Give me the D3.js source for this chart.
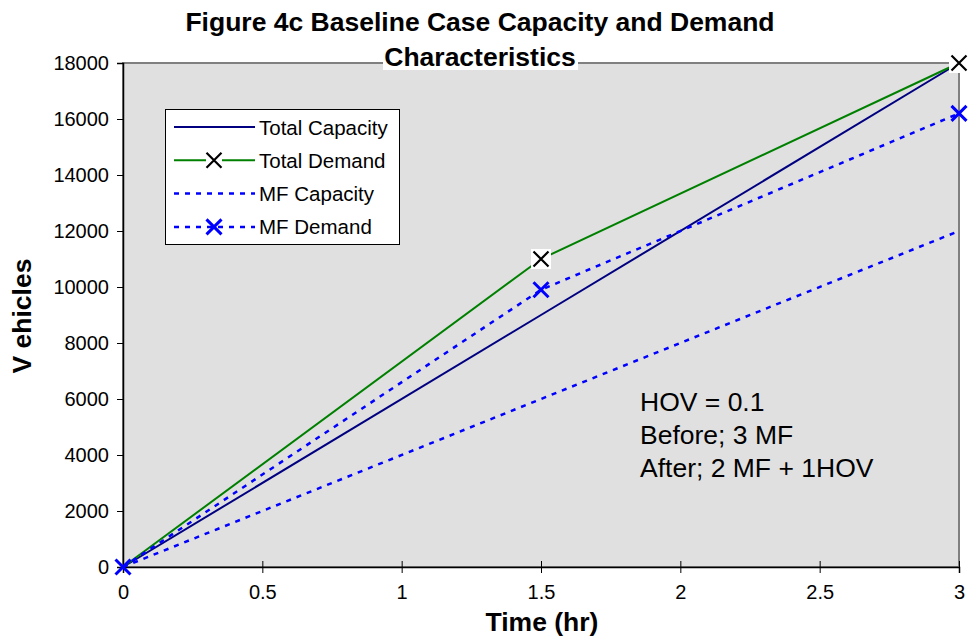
<!DOCTYPE html>
<html>
<head>
<meta charset="utf-8">
<script src="https://cdn.jsdelivr.net/npm/d3@7"></script>
<style>
  body { margin: 0; background: #fff; }
  svg text { font-family: "Liberation Sans", Arial, sans-serif; }
</style>
</head>
<body>
<svg id="chart" width="968" height="636"></svg>
<script>
// Figure 4c — baseline capacity and demand
const TIMES = [0, 1.5, 3];
const TOTAL_CAPACITY = [0, 9000, 18000];
const TOTAL_DEMAND = [0, 11000, 18000];
const MF_CAPACITY = [0, 6000, 12000];
const MF_DEMAND = [0, 9900, 16200];
const X_TICKS = [0, 0.5, 1, 1.5, 2, 2.5, 3];
const Y_TICKS = [0, 2000, 4000, 6000, 8000, 10000, 12000, 14000, 16000, 18000];
const NOTES = ['HOV = 0.1', 'Before; 3 MF', 'After; 2 MF + 1HOV'];

const series = [
    { name: 'Total Capacity', values: TOTAL_CAPACITY, color: '#000080', width: 2, dash: null, marker: null },
    { name: 'Total Demand', values: TOTAL_DEMAND, color: '#008000', width: 2, dash: null, marker: '#000' },
    { name: 'MF Capacity', values: MF_CAPACITY, color: '#0000ff', width: 2.5, dash: '5,6', marker: null },
    { name: 'MF Demand', values: MF_DEMAND, color: '#0000ff', width: 2.5, dash: '5,6', marker: '#0000ff' }
];

const PLOT = { left: 123, right: 959, top: 63, bottom: 567 };

const svg = d3.select('#chart');

const x = d3.scaleLinear().domain([0, 3]).range([PLOT.left, PLOT.right]);
const y = d3.scaleLinear().domain([0, 18000]).range([PLOT.bottom, PLOT.top]);

// plot background + gray frame
svg.append('rect')
    .attr('x', PLOT.left).attr('y', PLOT.top)
    .attr('width', PLOT.right - PLOT.left).attr('height', PLOT.bottom - PLOT.top)
    .attr('fill', '#e0e0e0')
    .attr('stroke', '#808080')
    .attr('stroke-width', 2);

// axes
const yAxis = d3.axisLeft(y).tickValues(Y_TICKS).tickSize(6).tickPadding(8).tickFormat(d3.format('d'));
svg.append('g')
    .attr('transform', `translate(${PLOT.left},0)`)
    .call(yAxis)
    .call(g => g.select('.domain').attr('stroke', '#000').attr('stroke-width', 1.5))
    .call(g => g.selectAll('.tick line').attr('stroke', '#000'))
    .call(g => g.selectAll('text').attr('font-size', '20px').attr('fill', '#000')
        .style('font-family', '"Liberation Sans", Arial, sans-serif'));

const xAxis = d3.axisBottom(x).tickValues(X_TICKS).tickSize(6).tickPadding(12).tickFormat(d => String(d));
svg.append('g')
    .attr('transform', `translate(0,${PLOT.bottom})`)
    .call(xAxis)
    .call(g => g.select('.domain').attr('stroke', '#000').attr('stroke-width', 1.5))
    .call(g => g.selectAll('.tick line').attr('stroke', '#000').attr('y1', -6))
    .call(g => g.selectAll('text').attr('font-size', '20px').attr('fill', '#000')
        .style('font-family', '"Liberation Sans", Arial, sans-serif'));

// lines
const line = d3.line().x((d, i) => x(TIMES[i])).y(d => y(d));

svg.append('g').selectAll('path')
    .data(series)
    .join('path')
    .attr('d', s => line(s.values))
    .attr('fill', 'none')
    .attr('stroke', s => s.color)
    .attr('stroke-width', s => s.width)
    .attr('stroke-dasharray', s => s.dash);

// X markers
function drawX(g, cx, cy, color, bg) {
    const r = 7.5;
    if (bg) {
        g.append('rect').attr('x', cx - 10).attr('y', cy - 10).attr('width', 20).attr('height', 20).attr('fill', '#fff');
    }
    g.append('path')
        .attr('d', `M${cx - r},${cy - r}L${cx + r},${cy + r}M${cx - r},${cy + r}L${cx + r},${cy - r}`)
        .attr('stroke', color)
        .attr('stroke-width', color === '#000' ? 2.2 : 3)
        .attr('fill', 'none');
}

const markers = svg.append('g');
series.filter(s => s.marker).forEach(s => {
    s.values.forEach((v, i) => {
        if (i === 0 && s.marker === '#000') return;
        drawX(markers, x(TIMES[i]), y(v), s.marker, s.marker === '#000');
    });
});

// legend
const legend = svg.append('g');
legend.append('rect')
    .attr('x', 165.5).attr('y', 109.5).attr('width', 234).attr('height', 135)
    .attr('fill', '#fff').attr('stroke', '#000').attr('stroke-width', 1);

series.forEach((s, i) => {
    const ly = 127 + i * 33.3;
    legend.append('line')
        .attr('x1', 174).attr('x2', 255).attr('y1', ly).attr('y2', ly)
        .attr('stroke', s.color).attr('stroke-width', s.width)
        .attr('stroke-dasharray', s.dash);
    if (s.marker) {
        if (s.marker === '#000') {
            legend.append('rect').attr('x', 206).attr('y', ly - 8).attr('width', 16).attr('height', 16).attr('fill', '#fff');
        }
        drawX(legend, 214, ly, s.marker, false);
    }
    legend.append('text')
        .attr('x', 259).attr('y', ly)
        .attr('dominant-baseline', 'central')
        .attr('font-size', '20.5px')
        .text(s.name);
});

// annotation
svg.append('g').selectAll('text')
    .data(NOTES)
    .join('text')
    .attr('x', 640)
    .attr('y', (d, i) => 411 + i * 33)
    .attr('font-size', '26.5px')
    .text(d => d);

// title
svg.append('rect').attr('x', 383).attr('y', 46).attr('width', 195).attr('height', 24).attr('fill', '#fff');
svg.append('text')
    .attr('x', 480).attr('y', 31)
    .attr('text-anchor', 'middle')
    .attr('font-size', '26.5px').attr('font-weight', 'bold')
    .text('Figure 4c Baseline Case Capacity and Demand');
svg.append('text')
    .attr('x', 480).attr('y', 66)
    .attr('text-anchor', 'middle')
    .attr('font-size', '26.5px').attr('font-weight', 'bold')
    .text('Characteristics');

// axis titles
svg.append('text')
    .attr('x', 542).attr('y', 631)
    .attr('text-anchor', 'middle')
    .attr('font-size', '26.5px').attr('font-weight', 'bold')
    .text('Time (hr)');

svg.append('text')
    .attr('transform', 'translate(31,316) rotate(-90)')
    .attr('text-anchor', 'middle')
    .attr('font-size', '26.5px').attr('font-weight', 'bold')
    .text('V ehicles');
</script>
</body>
</html>
